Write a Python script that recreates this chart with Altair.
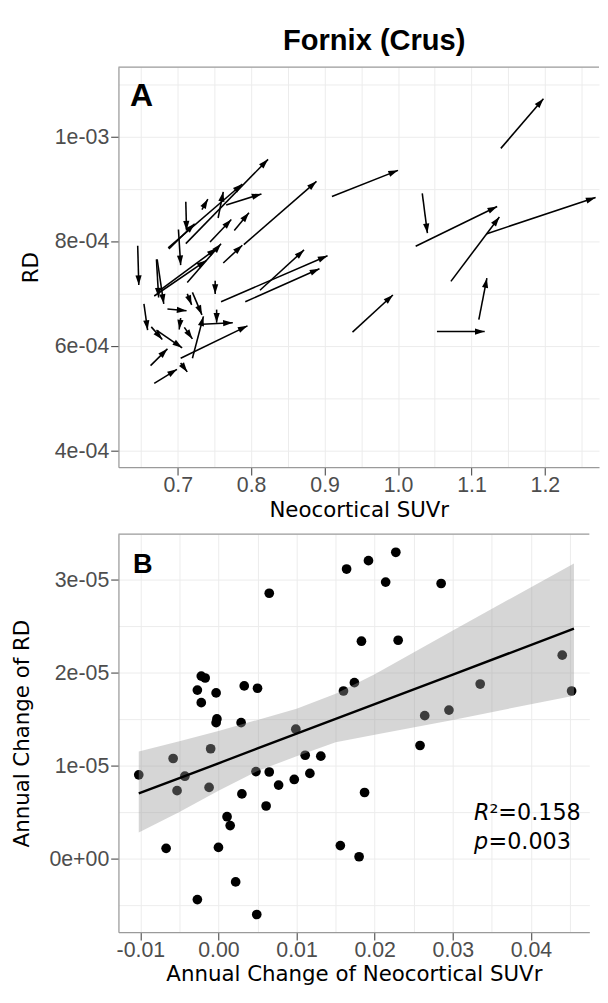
import math
import altair as alt
import pandas as pd

# ---------------- Panel A: longitudinal arrows (SUVr, RD) ----------------
suvr_start = [1.140, 0.910, 1.033, 1.024, 1.121, 1.072, 1.110, 1.053, 0.938,
              0.711, 0.687, 0.766, 0.755, 0.733, 0.711, 0.777, 0.762, 0.790, 0.744,
              0.713, 0.676, 0.751, 0.812, 0.759, 0.792, 0.713, 0.720, 0.753, 0.733,
              0.704, 0.720, 0.704, 0.668, 0.704, 0.709,
              0.6455, 0.654, 0.671, 0.672, 0.664, 0.671, 0.663, 0.686, 0.701, 0.688, 0.668]
rd_start = [9.77e-4, 8.85e-4, 8.91e-4, 7.90e-4, 8.14e-4, 7.23e-4, 6.50e-4, 6.27e-4, 6.26e-4,
            7.95e-4, 7.87e-4, 8.69e-4, 8.44e-4, 8.60e-4, 8.75e-4, 8.20e-4, 7.58e-4, 7.93e-4, 7.98e-4,
            7.21e-4, 7.06e-4, 7.24e-4, 7.06e-4, 6.84e-4, 6.84e-4, 6.99e-4, 7.02e-4, 6.69e-4, 6.41e-4,
            6.53e-4, 5.76e-4, 5.76e-4, 5.28e-4, 5.67e-4, 6.35e-4,
            7.91e-4, 6.80e-4, 7.65e-4, 7.65e-4, 6.36e-4, 6.30e-4, 5.62e-4, 6.70e-4, 8.22e-4, 7.85e-4, 6.95e-4]
suvr_end = [1.198, 1.000, 1.040, 1.135, 1.269, 1.138, 1.121, 1.118, 0.993,
            0.823, 0.788, 0.814, 0.762, 0.741, 0.712, 0.797, 0.788, 0.889, 0.773,
            0.759, 0.753, 0.751, 0.872, 0.904, 0.893, 0.719, 0.733, 0.753, 0.775,
            0.702, 0.735, 0.795, 0.699, 0.713, 0.720,
            0.647, 0.659, 0.674, 0.681, 0.679, 0.706, 0.686, 0.712, 0.704, 0.723, 0.739]
rd_end = [10.72e-4, 9.35e-4, 8.15e-4, 8.66e-4, 8.83e-4, 8.46e-4, 7.29e-4, 6.27e-4, 6.97e-4,
          9.56e-4, 9.09e-4, 8.90e-4, 8.94e-4, 8.80e-4, 8.20e-4, 8.54e-4, 7.92e-4, 9.14e-4, 8.41e-4,
          7.95e-4, 7.86e-4, 6.99e-4, 7.83e-4, 7.72e-4, 7.47e-4, 6.78e-4, 6.59e-4, 6.44e-4, 6.44e-4,
          6.31e-4, 6.56e-4, 6.38e-4, 5.55e-4, 5.50e-4, 6.13e-4,
          7.16e-4, 6.30e-4, 6.92e-4, 6.80e-4, 6.12e-4, 5.96e-4, 5.94e-4, 6.67e-4, 7.54e-4, 8.33e-4, 7.63e-4]

# ---------------- Panel B: annual change scatter ----------------
d_suvr = [0.0065, -0.0022, -0.0017, -0.0027, -0.0022, -0.0003, 0.0033, 0.0050, -0.0002,
          -0.0003, 0.0029, 0.0099, -0.0010, -0.0058, 0.0111, 0.0131, 0.0160,
          0.0164, 0.0192, 0.0227, 0.0214, 0.0285, 0.0183, 0.0230, 0.0174, 0.0440,
          0.0335, 0.0452, 0.0264, 0.0295, 0.0258,
          -0.0102, -0.0043, -0.0053, -0.0012, 0.0048, 0.0065, 0.0030, 0.0061, 0.0077,
          0.0097, 0.0117, 0.0187, 0.0011, 0.0015, -0.0067, 0.0000, 0.0156, 0.0180,
          0.0022, -0.0027, 0.0049]
d_rd = [2.85e-5, 1.96e-5, 1.94e-5, 1.81e-5, 1.675e-5, 1.78e-5, 1.855e-5, 1.83e-5, 1.50e-5,
        1.46e-5, 1.46e-5, 1.39e-5, 1.18e-5, 1.075e-5, 1.11e-5, 1.10e-5, 1.80e-5,
        3.11e-5, 3.20e-5, 3.29e-5, 2.97e-5, 2.955e-5, 2.335e-5, 2.345e-5, 1.89e-5, 2.185e-5,
        1.875e-5, 1.80e-5, 1.535e-5, 1.595e-5, 1.215e-5,
        0.90e-5, 0.885e-5, 0.73e-5, 0.765e-5, 0.935e-5, 0.93e-5, 0.695e-5, 0.565e-5, 0.79e-5,
        0.85e-5, 0.915e-5, 0.71e-5, 0.45e-5, 0.355e-5, 0.11e-5, 0.12e-5, 0.14e-5, 0.02e-5,
        -0.25e-5, -0.44e-5, -0.60e-5]

band_x = [-0.0102, -0.005, 0.0, 0.005, 0.01, 0.015, 0.02, 0.03, 0.0455]
band_lo = [0.28e-5, 0.50e-5, 0.73e-5, 0.94e-5, 1.10e-5, 1.25e-5, 1.33e-5, 1.49e-5, 1.75e-5]
band_hi = [1.15e-5, 1.26e-5, 1.37e-5, 1.49e-5, 1.61e-5, 1.77e-5, 1.98e-5, 2.45e-5, 3.17e-5]
fit_y = [0.70e-5, 0.865e-5, 1.024e-5, 1.183e-5, 1.342e-5, 1.50e-5, 1.659e-5, 1.977e-5, 2.469e-5]

ann_x = [0.0327, 0.0327]
ann_y = [0.416e-5, 0.104e-5]

# tick values (major + minor grid)
a_x_ticks = [0.65, 0.7, 0.75, 0.8, 0.85, 0.9, 0.95, 1.0, 1.05, 1.1, 1.15, 1.2, 1.25]
a_y_ticks = [4e-4, 5e-4, 6e-4, 7e-4, 8e-4, 9e-4, 1e-3, 1.1e-3]
b_x_ticks = [-0.01, -0.005, 0.0, 0.005, 0.01, 0.015, 0.02, 0.025, 0.03, 0.035, 0.04, 0.045]
b_y_ticks = [-5e-6, 0.0, 5e-6, 1e-5, 1.5e-5, 2e-5, 2.5e-5, 3e-5]

# ---------------- layout / style ----------------
W_A, H_A = 496, 413
XA = [0.6193, 1.2737]
YA = [3.68e-4, 1.1324e-3]
W_B, H_B = 486, 411
XB = [-0.0128, 0.04747]
YB = [-7.91e-6, 3.486e-5]

GRAY = "#9a9a9a"
LABEL_FONT = "Liberation Sans"
TITLE_FONT = "DejaVu Sans"

kx = W_A / (XA[1] - XA[0])
ky = H_A / (YA[1] - YA[0])
arrows = pd.DataFrame({"x0": suvr_start, "y0": rd_start, "x1": suvr_end, "y1": rd_end})
arrows["ang"] = [
    math.degrees(math.atan2((b - a) * kx, (d - c) * ky)) % 360
    for a, b, c, d in zip(suvr_start, suvr_end, rd_start, rd_end)
]

one = pd.DataFrame({"k": [0]})


def tick_op(test):
    return {"condition": {"test": test, "value": 1}, "value": 0}


ax_a_x = alt.Axis(values=a_x_ticks, title="Neocortical SUVr",
                  labelExpr="round(datum.value*100) % 10 == 0 ? format(datum.value, '.1f') : ''",
                  tickOpacity=tick_op("round(datum.value*100) % 10 == 0"),
                  labelPadding=0, titlePadding=5)
ax_a_y = alt.Axis(values=a_y_ticks, title="RD",
                  labelExpr="round(datum.value*1e4) % 2 == 0 ? (round(datum.value*1e4) >= 10 ? '1e-03' : round(datum.value*1e4) + 'e-04') : ''",
                  tickOpacity=tick_op("round(datum.value*1e4) % 2 == 0"),
                  labelPadding=2, titlePadding=12)

sxA = alt.Scale(domain=XA, nice=False, zero=False)
syA = alt.Scale(domain=YA, nice=False, zero=False)


def xa(f):
    return alt.X(f, type="quantitative", scale=sxA, axis=ax_a_x, title="Neocortical SUVr")


def ya(f):
    return alt.Y(f, type="quantitative", scale=syA, axis=ax_a_y, title="RD")


segs = alt.Chart(arrows).mark_rule(color="black", strokeWidth=1.6).encode(
    x=xa("x0"), y=ya("y0"), x2="x1", y2="y1")
heads = alt.Chart(arrows).mark_point(
    shape="M0,0 L0.64,2 L-0.64,2 Z", filled=True, size=100, color="black",
    opacity=1, strokeWidth=0).encode(
    x=xa("x1"), y=ya("y1"), angle=alt.Angle("ang:Q", scale=None))
top_a = alt.Chart(one).mark_rule(color=GRAY, strokeWidth=1.3).encode(
    x=alt.value(0), x2=alt.value(W_A), y=alt.value(0))
lab_a = alt.Chart(one).mark_text(text="A", font=LABEL_FONT, fontSize=33, fontWeight="bold",
                                 align="left", baseline="alphabetic", color="black").encode(
    x=alt.value(12), y=alt.value(40))

panel_a = alt.layer(segs, heads, top_a, lab_a).properties(
    width=W_A, height=H_A,
    title=alt.TitleParams("Fornix (Crus)", font=LABEL_FONT, fontSize=30, fontWeight="bold",
                          color="black", anchor="middle", dx=16, offset=11))

# ---------------- Panel B ----------------
ax_b_x = alt.Axis(values=b_x_ticks, title="Annual Change of Neocortical SUVr",
                  labelExpr="round(datum.value*1000) % 10 == 0 ? (datum.value < -0.0001 ? '-' + format(-datum.value, '.2f') : format(abs(datum.value), '.2f')) : ''",
                  tickOpacity=tick_op("round(datum.value*1000) % 10 == 0"),
                  labelPadding=0, titlePadding=4)
ax_b_y = alt.Axis(values=b_y_ticks, title="Annual Change of RD",
                  labelExpr="round(datum.value*2e5) % 2 == 0 ? (round(datum.value*1e5) == 0 ? '0e+00' : round(datum.value*1e5) + 'e-05') : ''",
                  tickOpacity=tick_op("round(datum.value*2e5) % 2 == 0"),
                  labelPadding=2, titlePadding=16)

sxB = alt.Scale(domain=XB, nice=False, zero=False)
syB = alt.Scale(domain=YB, nice=False, zero=False)


def xb(f):
    return alt.X(f, type="quantitative", scale=sxB, axis=ax_b_x,
                 title="Annual Change of Neocortical SUVr")


def yb(f):
    return alt.Y(f, type="quantitative", scale=syB, axis=ax_b_y, title="Annual Change of RD")


pts = pd.DataFrame({"dx": d_suvr, "dy": d_rd})
band = pd.DataFrame({"bx": band_x, "lo": band_lo, "hi": band_hi, "fit": fit_y})
ann = pd.DataFrame({"ax": ann_x, "ay": ann_y})

dots = alt.Chart(pts).mark_circle(size=100, color="black", opacity=1).encode(
    x=xb("dx"), y=yb("dy"))
ci = alt.Chart(band).mark_area(color="#999999", opacity=0.4).encode(
    x=xb("bx"), y=yb("lo"), y2="hi")
fit = alt.Chart(band).mark_line(color="black", strokeWidth=2.5).encode(
    x=xb("bx"), y=yb("fit"))

ann_r = alt.Chart(ann.iloc[[0]]).mark_text(text="R", font=TITLE_FONT, fontSize=23,
                                           fontStyle="italic", align="left",
                                           baseline="alphabetic", color="black").encode(
    x=xb("ax"), y=yb("ay"))
ann_r2 = alt.Chart(ann.iloc[[0]]).mark_text(text="²=0.158", font=TITLE_FONT, fontSize=23,
                                            align="left", baseline="alphabetic", dx=16,
                                            color="black").encode(
    x=xb("ax"), y=yb("ay"))
ann_p = alt.Chart(ann.iloc[[1]]).mark_text(text="p", font=TITLE_FONT, fontSize=23,
                                           fontStyle="italic", align="left",
                                           baseline="alphabetic", color="black").encode(
    x=xb("ax"), y=yb("ay"))
ann_p2 = alt.Chart(ann.iloc[[1]]).mark_text(text="=0.003", font=TITLE_FONT, fontSize=23,
                                            align="left", baseline="alphabetic", dx=15,
                                            color="black").encode(
    x=xb("ax"), y=yb("ay"))

top_b = alt.Chart(one).mark_rule(color=GRAY, strokeWidth=1.3).encode(
    x=alt.value(0), x2=alt.value(W_B), y=alt.value(0))
lab_b = alt.Chart(one).mark_text(text="B", font=LABEL_FONT, fontSize=28, fontWeight="bold",
                                 align="left", baseline="alphabetic", color="black").encode(
    x=alt.value(15), y=alt.value(40))

panel_b = alt.layer(dots, ci, fit, ann_r, ann_r2, ann_p, ann_p2, top_b, lab_b).properties(
    width=W_B, height=H_B)

chart = alt.concat(panel_a, panel_b, columns=1, align="none", spacing=13).properties(
    padding={"left": 3, "top": 3, "right": 0, "bottom": 0},
    background="white",
).configure_view(stroke=None).configure_axis(
    labelFont=LABEL_FONT, labelFontSize=22, labelColor="#4d4d4d",
    titleFont=TITLE_FONT, titleFontSize=22, titleColor="black", titleFontWeight="normal",
    tickColor="#555555", tickSize=8, tickWidth=1.2,
    domainColor=GRAY, domainWidth=1.3,
    gridColor="#ebebeb", gridWidth=1,
    labelOverlap=False, labelFlush=False,
)

chart.save("out.html", embed_options={"renderer": "svg", "actions": False})
